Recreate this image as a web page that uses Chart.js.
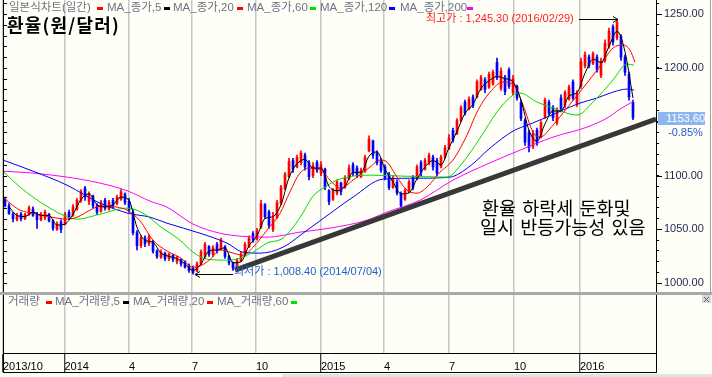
<!DOCTYPE html>
<html>
<head>
<meta charset="utf-8">
<script src="https://cdn.jsdelivr.net/npm/chart.js@4.4.1/dist/chart.umd.min.js"></script>
<style>
  body { margin: 0; background: #fffff7; }
  #wrap { position: relative; width: 712px; height: 377px; overflow: hidden;
          font-family: "Liberation Sans", "Noto Sans CJK KR", sans-serif; }
  #wrap canvas { position: absolute; left: 0; top: 0; }
  .t { position: absolute; white-space: pre; font-size: 11px; line-height: 13px; }
  .leg { color: #6b7388; font-size: 11.5px; }
  .mk { position: absolute; width: 6px; height: 3px; }
  .big { position: absolute; white-space: pre; font-family: "Noto Sans CJK KR", sans-serif;
         font-size: 18.5px; line-height: 19px; color: #000; word-spacing: 2px; }
</style>
</head>
<body>
<div id="wrap">
  <canvas id="chart" width="712" height="377"></canvas>

  <div class="t leg" style="left:9px;top:1px">일본식차트(일간)</div>
  <div class="mk" style="left:97px;top:7px;background:#ff0000"></div>
  <div class="t leg" style="left:107px;top:1px">MA_종가,5</div>
  <div class="mk" style="left:164px;top:7px;background:#000"></div>
  <div class="t leg" style="left:173px;top:1px">MA_종가,20</div>
  <div class="mk" style="left:237px;top:7px;background:#ff0000"></div>
  <div class="t leg" style="left:247px;top:1px">MA_종가,60</div>
  <div class="mk" style="left:310px;top:7px;background:#00dd00"></div>
  <div class="t leg" style="left:320px;top:1px">MA_종가,120</div>
  <div class="mk" style="left:389px;top:7px;background:#0000ff"></div>
  <div class="t leg" style="left:400px;top:1px">MA_종가,200</div>
  <div class="mk" style="left:467px;top:7px;background:#ff00ff"></div>

  <div class="t" style="left:7px;top:13px;font-family:'Noto Sans CJK KR',sans-serif;font-size:18px;line-height:22px;font-weight:bold;letter-spacing:1.2px;color:#000">환율(원/달러)</div>

  <div class="t" style="left:426px;top:12px;color:#ff2020">최고가 : 1,245.30 (2016/02/29)</div>
  <div class="t" style="left:234px;top:265px;color:#1f5fd0">최저가 : 1,008.40 (2014/07/04)</div>

  <div class="big" style="left:482px;top:198px">환율 하락세 둔화및</div>
  <div class="big" style="left:480px;top:217px">일시 반등가능성 있음</div>

  <div class="t" style="left:658px;top:112px;width:47px;height:13px;background:#8cb6f2;color:#fff;text-align:right">1153.60</div>
  <div class="t" style="left:668px;top:126px;color:#1f5fd0">-0.85%</div>

  <div class="t leg" style="left:8px;top:295px">거래량</div>
  <div class="mk" style="left:46px;top:301px;background:#ff0000"></div>
  <div class="t leg" style="left:55px;top:295px">MA_거래량,5</div>
  <div class="mk" style="left:123px;top:301px;background:#000"></div>
  <div class="t leg" style="left:133px;top:295px">MA_거래량,20</div>
  <div class="mk" style="left:207px;top:301px;background:#ff0000"></div>
  <div class="t leg" style="left:217px;top:295px">MA_거래량,60</div>
  <div class="mk" style="left:291px;top:301px;background:#00dd00"></div>
</div>

<script>
// daily candles, grouped 4 trading days per candle (KRW per USD)
const opens = [1078,1072,1064,1059,1064,1060,1064,1069,1064,1059,1061,1064,1058,1050,1057,1055,1066,1063,1069,1077,
  1088,1076,1081,1072,1067,1077,1069,1077,1074,1078,1083,1076,1066,1047,1035,1042,1037,1039,1030,1024,
  1028,1023,1026,1020,1022,1020,1016,1014,1011,1018,1025,1034,1027,1036,1032,1034,1025,1019,1013,1021,
  1027,1034,1046,1041,1052,1073,1066,1050,1061,1074,1088,1099,1114,1108,1112,1119,1112,1100,1112,1102,
  1106,1086,1078,1084,1093,1089,1097,1110,1107,1099,1104,1123,1132,1121,1114,1108,1101,1089,1094,1083,
  1078,1085,1098,1097,1112,1106,1111,1117,1114,1108,1117,1125,1142,1139,1151,1168,1162,1173,1173,1180,
  1189,1182,1185,1205,1181,1191,1198,1177,1183,1168,1151,1140,1127,1142,1136,1154,1168,1163,1149,1172,
  1165,1171,1187,1166,1183,1202,1210,1204,1210,1193,1207,1220,1238,1228,1229,1210,1194,1168];
const highs = [1080,1074,1066,1065,1066,1065,1072,1071,1066,1066,1068,1065,1059,1057,1059,1066,1068,1073,1079,1087,
  1090,1085,1082,1074,1077,1079,1077,1079,1082,1087,1084,1079,1068,1049,1044,1044,1045,1040,1031,1031,
  1029,1028,1027,1025,1023,1021,1018,1016,1020,1031,1038,1035,1035,1038,1042,1035,1026,1020,1023,1029,
  1038,1044,1048,1051,1077,1074,1068,1066,1077,1091,1103,1116,1116,1119,1123,1121,1114,1112,1114,1113,
  1107,1087,1088,1096,1094,1100,1110,1112,1109,1107,1119,1137,1133,1123,1116,1110,1103,1100,1096,1085,
  1088,1096,1100,1110,1114,1116,1121,1119,1116,1119,1128,1138,1144,1153,1165,1170,1173,1175,1189,1193,
  1191,1196,1198,1209,1200,1193,1200,1193,1184,1170,1153,1142,1142,1144,1151,1172,1170,1165,1163,1175,
  1179,1184,1189,1179,1209,1215,1212,1215,1212,1209,1226,1237,1240,1245.3,1231,1212,1196,1170];
const lows = [1071,1064,1057,1058,1058,1059,1063,1062,1051,1058,1059,1057,1049,1049,1047,1054,1059,1062,1068,1075,
  1077,1073,1070,1064,1066,1068,1068,1070,1073,1077,1073,1066,1045,1031,1033,1034,1035,1028,1023,1023,
  1021,1021,1020,1018,1016,1014,1010,1008.4,1011,1017,1023,1025,1025,1028,1031,1023,1017,1012,1012,1020,
  1026,1033,1038,1040,1051,1060,1051,1048,1060,1073,1087,1098,1103,1107,1110,1105,1096,1098,1103,1100,
  1087,1073,1077,1082,1082,1088,1096,1100,1098,1098,1103,1122,1116,1110,1103,1096,1087,1088,1082,1070,
  1077,1084,1087,1096,1100,1105,1110,1105,1100,1107,1116,1124,1131,1138,1150,1156,1161,1163,1172,1179,
  1177,1181,1184,1189,1179,1175,1181,1175,1170,1151,1128,1122,1125,1128,1135,1153,1156,1151,1147,1159,
  1163,1170,1170,1164,1181,1200,1200,1203,1196,1191,1205,1218,1221,1226,1207,1193,1170,1152];
const closes = [1072,1065,1060,1063,1060,1064,1070,1063,1059,1064,1066,1058,1051,1055,1050,1064,1061,1071,1077,1085,
  1080,1083,1072,1066,1075,1070,1075,1071,1080,1085,1075,1068,1047,1035,1042,1037,1043,1030,1025,1029,
  1023,1027,1022,1024,1018,1015,1012,1010,1018,1029,1036,1027,1033,1030,1040,1025,1019,1014,1021,1027,
  1036,1042,1040,1049,1074,1062,1054,1060,1075,1089,1101,1113,1106,1117,1121,1108,1099,1109,1105,1110,
  1089,1076,1086,1094,1085,1098,1107,1102,1100,1105,1117,1134,1119,1112,1105,1098,1089,1098,1084,1072,
  1086,1094,1089,1108,1103,1114,1119,1108,1102,1117,1126,1135,1133,1151,1163,1158,1171,1165,1187,1191,
  1180,1194,1196,1191,1197,1178,1183,1190,1172,1153,1131,1126,1139,1130,1149,1170,1158,1154,1160,1162,
  1177,1182,1172,1176,1206,1212,1202,1213,1198,1206,1223,1234,1224,1242,1210,1196,1173,1153.6];
const candleFirstDay = 2;
const candleStep = 4;

// moving averages (x = trading day from 2013/10/01)
const ma5FirstDay = 6;
const ma5Step = 8;
const ma5 = [1071,1063,1062,1066,1063,1063,1054,1055,1064,1078,1083,1073,1071,1073,1080,1077,1052,1040,1038,1028,
  1025,1023,1018,1012,1018,1030,1031,1033,1019,1020,1035,1044,1060,1062,1073,1098,1111,1115,1107,1107,
  1090,1086,1090,1103,1103,1118,1122,1106,1094,1083,1084,1097,1108,1114,1110,1126,1141,1158,1166,1181,
  1188,1192,1190,1187,1170,1142,1132,1148,1160,1160,1174,1177,1195,1208,1205,1220,1234,1215,1172];

const ma20Days = [0,7,17,30,54,64,74,87,97,114,124,137,150,164,177,190,197,207,217,227,240,250,264,277,287,297,307,317,327,337,
  350,367,377,384,394,404,414,424,437,450,464,474,487,500,510,520,530,537,550,564,580,597,610,620,627,632];
const ma20 = [1080,1074.4,1067.9,1065.1,1060.5,1059.5,1061.4,1067.9,1071.6,1070.7,1067.9,1058,1040,1030,1024,1015,1016,1022,1031,1028.9,
  1026.1,1033.5,1049.3,1065,1085,1102.3,1106.9,1106,1095.8,1088.3,1095.8,1107.9,1114.4,1112.5,1098.6,1086.5,1083.7,1089.3,1103.2,1114.4,
  1137.6,1159,1177.5,1186.8,1185,1165.5,1140.4,1135.7,1146.9,1162.7,1181.2,1201.7,1218.4,1221.2,1216.5,1205.4];

const ma60Days = [0,17,30,47,60,74,97,124,140,157,177,190,204,224,237,250,264,280,297,310,322,334,367,400,444,460,477,494,510,517,534,550,574,590,610,624,631];
const ma60 = [1104.1,1089.3,1080,1069.8,1063.3,1059.5,1064.2,1069.8,1065.1,1053,1040,1028.9,1022.4,1021.5,1023.3,1028.9,1037.3,1042,1061,1080.9,
  1089.3,1095.8,1100.4,1099.5,1098.6,1112.5,1134.8,1159,1174.7,1176.6,1168.2,1162.7,1156.2,1168.2,1188.7,1203.5,1202.6];

const ma120Days = [0,30,64,97,125,147,164,197,224,240,257,280,300,322,350,380,417,447,467,487,510,527,544,577,594,610,624,631];
const ma120 = [1114.4,1104.1,1091.1,1074.4,1065.1,1061.4,1055.8,1046.5,1037.3,1028.9,1028,1033.5,1046.5,1061.4,1080,1096.7,1097.6,1098.6,1108.8,1125.5,
  1141.3,1147.8,1154.3,1167.3,1172,1177.5,1180.3,1179.4];

const ma200Days = [0,30,64,97,125,147,164,190,217,237,264,297,327,364,384,417,450,484,517,550,584,604,617,631];
const ma200 = [1104.1,1102.3,1098.6,1093,1085.6,1076.3,1070.7,1055,1046.5,1043.8,1042.8,1047.5,1051.2,1058.6,1066.1,1077.2,1095.8,1110.6,1123.6,1135.7,
  1145,1153.4,1161.7,1169.2];

// support trend line drawn on the chart
const trendDays = [232, 653];
const trendPrices = [1012.3, 1152.5];

// highest / lowest marks
const maxDay = 615, maxPrice = 1245.3;
const minDay = 192, minPrice = 1008.4;

// x axis
const tickDays = [0, 61.5, 126, 189, 253, 318, 381, 446, 511, 577];
const tickLabels = ['2013/10', '2014', '4', '7', '10', '2015', '4', '7', '10', '2016'];
const yearTickIdx = [0, 1, 5, 9];

const priceMin = 935.3, priceMax = 1263;
const priceTicks = [];
for (let v = 1000; v <= 1260; v += 10) priceTicks.push(v);

const UP = '#ff0000', DOWN = '#0000ff';

function pts(days, vals) {
  return vals.map((v, i) => ({ x: days[i], y: v }));
}
const candleDays = opens.map((_, i) => candleFirstDay + candleStep * i);
const ma5Days = ma5.map((_, i) => ma5FirstDay + ma5Step * i);
const candleColor = ctx => closes[ctx.dataIndex] >= opens[ctx.dataIndex] ? UP : DOWN;

function maLine(label, days, vals, color, order) {
  return {
    type: 'line', label, data: pts(days, vals), borderColor: color, borderWidth: 1,
    pointRadius: 0, cubicInterpolationMode: 'monotone', order
  };
}

const deco = {
  id: 'deco',
  beforeDraw(chart) {
    const { ctx } = chart;
    ctx.save();
    ctx.fillStyle = '#fffff7';
    ctx.fillRect(0, 0, chart.width, chart.height);
    ctx.restore();
  },
  afterDraw(chart) {
    const { ctx, chartArea: a, scales: { x, y } } = chart;
    ctx.save();
    ctx.strokeStyle = '#000';
    ctx.lineWidth = 1;

    // left border with small ticks
    ctx.beginPath();
    ctx.moveTo(3.5, 0); ctx.lineTo(3.5, 373);
    priceTicks.forEach(v => {
      const py = Math.round(y.getPixelForValue(v)) + 0.5;
      ctx.moveTo(3, py); ctx.lineTo(7, py);
    });
    // longer right ticks at labelled values
    priceTicks.filter(v => v % 50 === 0).forEach(v => {
      const py = Math.round(y.getPixelForValue(v)) + 0.5;
      ctx.moveTo(a.right, py); ctx.lineTo(a.right + 6, py);
    });
    // right axis through label row, bottom line
    ctx.moveTo(a.right + 0.5, a.bottom); ctx.lineTo(a.right + 0.5, 373);
    ctx.moveTo(3, 372.5); ctx.lineTo(a.right + 1, 372.5);
    ctx.stroke();

    // panel separator
    ctx.fillStyle = '#a9a9a9';
    ctx.fillRect(0, 292, chart.width, 3);
    // right frame
    ctx.strokeStyle = '#a0a0a0';
    ctx.beginPath(); ctx.moveTo(710.5, 0); ctx.lineTo(710.5, 292); ctx.stroke();
    // close box
    ctx.fillStyle = '#d6d6d6';
    ctx.fillRect(702, 295, 9, 8);
    ctx.strokeStyle = '#606060';
    ctx.beginPath();
    ctx.moveTo(704, 297); ctx.lineTo(709, 302); ctx.moveTo(709, 297); ctx.lineTo(704, 302);
    ctx.stroke();
    // scroll bar
    ctx.fillStyle = '#e2e2e2';
    ctx.fillRect(282, 374, 430, 3);

    // high / low arrows
    ctx.strokeStyle = '#000';
    const hx = x.getPixelForValue(maxDay), hy = Math.round(y.getPixelForValue(maxPrice)) + 0.5;
    ctx.beginPath();
    ctx.moveTo(579, hy); ctx.lineTo(hx, hy);
    ctx.moveTo(hx - 5, hy - 3); ctx.lineTo(hx, hy); ctx.lineTo(hx - 5, hy + 3);
    const lx = x.getPixelForValue(minDay), ly = Math.round(y.getPixelForValue(minPrice)) + 0.5;
    ctx.moveTo(233, ly); ctx.lineTo(lx, ly);
    ctx.moveTo(lx + 5, ly - 3); ctx.lineTo(lx, ly); ctx.lineTo(lx + 5, ly + 3);
    ctx.stroke();
    ctx.restore();
  }
};

new Chart(document.getElementById('chart'), {
  type: 'line',
  data: {
    datasets: [
      { type: 'line', label: 'trend', data: pts(trendDays, trendPrices), borderColor: '#383838',
        borderWidth: 5, pointRadius: 0, order: 0 },
      maLine('MA_종가,5', ma5Days, ma5, '#000000', 1),
      maLine('MA_종가,20', ma20Days, ma20, '#ff0000', 2),
      maLine('MA_종가,60', ma60Days, ma60, '#00dd00', 3),
      maLine('MA_종가,120', ma120Days, ma120, '#0000ff', 4),
      maLine('MA_종가,200', ma200Days, ma200, '#ff00ff', 5),
      { type: 'bar', label: 'body', data: candleDays.map((d, i) => ({ x: d, y: [opens[i], closes[i]] })),
        backgroundColor: candleColor, barThickness: 2, grouped: false, borderWidth: 0, order: 6 },
      { type: 'bar', label: 'wick', data: candleDays.map((d, i) => ({ x: d, y: [lows[i], highs[i]] })),
        backgroundColor: candleColor, barThickness: 1, grouped: false, borderWidth: 0, order: 7 }
    ]
  },
  options: {
    responsive: false,
    animation: false,
    events: [],
    layout: { padding: { left: 3, right: 0, top: 0, bottom: 0 }, autoPadding: false },
    plugins: { legend: { display: false }, tooltip: { enabled: false } },
    scales: {
      x: {
        type: 'linear', min: 0, max: 653, offset: false,
        afterBuildTicks: s => { s.ticks = tickDays.map(v => ({ value: v })); },
        afterFit: s => { s.height = 24; s.paddingLeft = 0; s.paddingRight = 0; },
        grid: {
          offset: false, color: '#c6c6c6', lineWidth: 1.5, drawTicks: true, tickLength: 19, tickWidth: 1,
          tickColor: c => yearTickIdx.includes(c.index) ? '#000' : 'rgba(0,0,0,0)'
        },
        border: { display: true, color: '#000', width: 1 },
        ticks: {
          align: 'start', padding: -12, maxRotation: 0, autoSkip: false, color: '#000',
          font: { family: 'Liberation Sans', size: 11 },
          callback: (v, i) => tickLabels[i]
        }
      },
      y: {
        type: 'linear', position: 'right', min: priceMin, max: priceMax,
        afterBuildTicks: s => { s.ticks = priceTicks.map(v => ({ value: v })); },
        afterFit: s => { s.width = 56; s.paddingTop = 0; s.paddingBottom = 0; },
        grid: { drawOnChartArea: false, drawTicks: true, tickLength: 3, tickColor: '#000' },
        border: { display: true, color: '#000', width: 1 },
        ticks: {
          padding: 5, autoSkip: false, color: '#1d2550',
          font: { family: 'Liberation Sans', size: 11 },
          callback: v => v % 50 === 0 ? v.toFixed(2) : ''
        }
      }
    }
  },
  plugins: [deco]
});
</script>
</body>
</html>
